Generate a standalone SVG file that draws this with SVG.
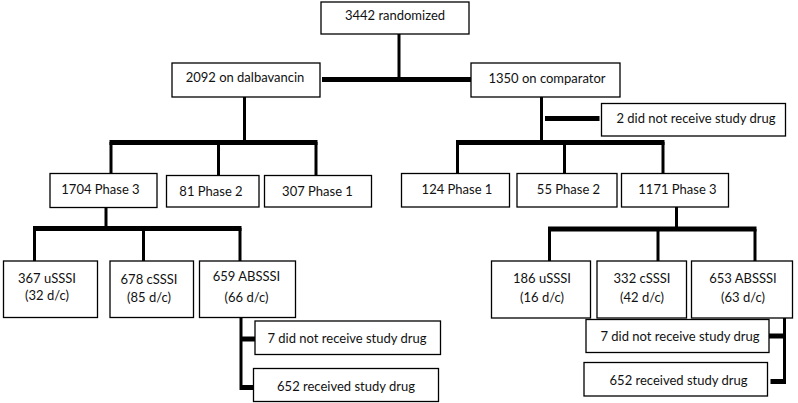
<svg xmlns="http://www.w3.org/2000/svg" width="798" height="403" viewBox="0 0 798 403">
<style>
  .box { fill: #ffffff; stroke: #000000; stroke-width: 1.3; }
  .t { font-family: Lato, "Liberation Sans", sans-serif; font-size: 13px; fill: #111111; text-anchor: middle; }
  .thin { stroke: #000000; stroke-width: 3; fill: none; }
  .thick { stroke: #000000; stroke-width: 5; fill: none; }
</style>
<rect width="798" height="403" fill="#ffffff"/>
<g id="connectors">
  <line class="thin" x1="399" y1="34" x2="399" y2="82"/>
  <line class="thick" x1="322" y1="79.5" x2="471" y2="79.5"/>
  <line class="thin" x1="244.5" y1="97" x2="244.5" y2="142"/>
  <line class="thick" x1="109.5" y1="142.5" x2="317.5" y2="142.5"/>
  <line class="thin" x1="111" y1="142" x2="111" y2="174"/>
  <line class="thin" x1="218.5" y1="142" x2="218.5" y2="176"/>
  <line class="thin" x1="316" y1="142" x2="316" y2="176"/>
  <line class="thin" x1="541.5" y1="97" x2="541.5" y2="140"/>
  <line class="thick" x1="545" y1="118.5" x2="599.5" y2="118.5"/>
  <line class="thick" x1="456" y1="142.5" x2="664.5" y2="142.5"/>
  <line class="thin" x1="457.5" y1="142" x2="457.5" y2="174"/>
  <line class="thin" x1="564.5" y1="142" x2="564.5" y2="174"/>
  <line class="thin" x1="663" y1="142" x2="663" y2="174"/>
  <line class="thin" x1="106" y1="207" x2="106" y2="229"/>
  <line class="thick" x1="33" y1="228.5" x2="241.5" y2="228.5"/>
  <line class="thin" x1="34.5" y1="228" x2="34.5" y2="261"/>
  <line class="thin" x1="143.5" y1="228" x2="143.5" y2="261"/>
  <line class="thin" x1="240" y1="228" x2="240" y2="261"/>
  <line class="thin" x1="241" y1="318" x2="241" y2="390"/>
  <line class="thick" x1="241" y1="339" x2="255" y2="339"/>
  <line class="thick" x1="241" y1="387.5" x2="253.5" y2="387.5"/>
  <line class="thin" x1="676.5" y1="207" x2="676.5" y2="229"/>
  <line class="thick" x1="548" y1="229" x2="756.5" y2="229"/>
  <line class="thin" x1="549.5" y1="229" x2="549.5" y2="261"/>
  <line class="thin" x1="658" y1="229" x2="658" y2="261"/>
  <line class="thin" x1="755" y1="229" x2="755" y2="261"/>
  <line class="thin" x1="784.5" y1="318" x2="784.5" y2="384"/>
  <line class="thick" x1="769" y1="336" x2="786" y2="336"/>
  <line class="thick" x1="770.5" y1="381.5" x2="786" y2="381.5"/>
</g>
<g id="n-randomized"><rect class="box" x="321" y="2" width="148" height="32"/><text class="t" x="395" y="19.5">3442 randomized</text></g>
<g id="n-dalba"><rect class="box" x="172" y="63" width="148" height="34"/><text class="t" x="245" y="82">2092 on dalbavancin</text></g>
<g id="n-comp"><rect class="box" x="471" y="63" width="149" height="34"/><text class="t" x="547" y="83">1350 on comparator</text></g>
<g id="n-comp-nodrug"><rect class="box" x="601.5" y="103.5" width="184" height="32.5"/><text class="t" x="696" y="123">2 did not receive study drug</text></g>
<g id="n-d-p3"><rect class="box" x="50" y="173.5" width="107" height="34"/><text class="t" x="100.5" y="194">1704 Phase 3</text></g>
<g id="n-d-p2"><rect class="box" x="166.5" y="175.5" width="92.5" height="31.5"/><text class="t" x="211" y="195.5">81 Phase 2</text></g>
<g id="n-d-p1"><rect class="box" x="264.5" y="175.5" width="107" height="31.5"/><text class="t" x="317.5" y="195.5">307 Phase 1</text></g>
<g id="n-c-p1"><rect class="box" x="401.5" y="173.5" width="108" height="33.5"/><text class="t" x="457" y="194">124 Phase 1</text></g>
<g id="n-c-p2"><rect class="box" x="517" y="173.5" width="100" height="33.5"/><text class="t" x="568.5" y="194">55 Phase 2</text></g>
<g id="n-c-p3"><rect class="box" x="621.5" y="173.5" width="107" height="33.5"/><text class="t" x="677.5" y="194">1171 Phase 3</text></g>
<g id="n-d-u"><rect class="box" x="3.5" y="261" width="94" height="56.5"/><text class="t" x="47" y="283">367 uSSSI</text><text class="t" x="47" y="300">(32 d/c)</text></g>
<g id="n-d-c"><rect class="box" x="110" y="261" width="83.5" height="56.5"/><text class="t" x="149" y="283.5">678 cSSSI</text><text class="t" x="149" y="301.5">(85 d/c)</text></g>
<g id="n-d-ab"><rect class="box" x="199.5" y="261" width="96" height="56.5"/><text class="t" x="246.5" y="280.5">659 ABSSSI</text><text class="t" x="246.5" y="301.5">(66 d/c)</text></g>
<g id="n-d-nodrug"><rect class="box" x="255" y="321" width="185.5" height="33.5"/><text class="t" x="347" y="343">7 did not receive study drug</text></g>
<g id="n-d-drug"><rect class="box" x="253.5" y="368.5" width="185" height="33"/><text class="t" x="346" y="390.5">652 received study drug</text></g>
<g id="n-c-u"><rect class="box" x="491.5" y="261" width="99" height="57"/><text class="t" x="542" y="283">186 uSSSI</text><text class="t" x="542" y="301.5">(16 d/c)</text></g>
<g id="n-c-c"><rect class="box" x="597" y="261" width="89.5" height="57"/><text class="t" x="642" y="283">332 cSSSI</text><text class="t" x="642" y="301.5">(42 d/c)</text></g>
<g id="n-c-ab"><rect class="box" x="691.5" y="261" width="101" height="57"/><text class="t" x="743" y="283">653 ABSSSI</text><text class="t" x="743" y="301.5">(63 d/c)</text></g>
<g id="n-c-nodrug"><rect class="box" x="586" y="319.5" width="183" height="33"/><text class="t" x="680" y="340.5">7 did not receive study drug</text></g>
<g id="n-c-drug"><rect class="box" x="584" y="362.5" width="183.5" height="33.5"/><text class="t" x="678.5" y="384.5">652 received study drug</text></g>
</svg>
